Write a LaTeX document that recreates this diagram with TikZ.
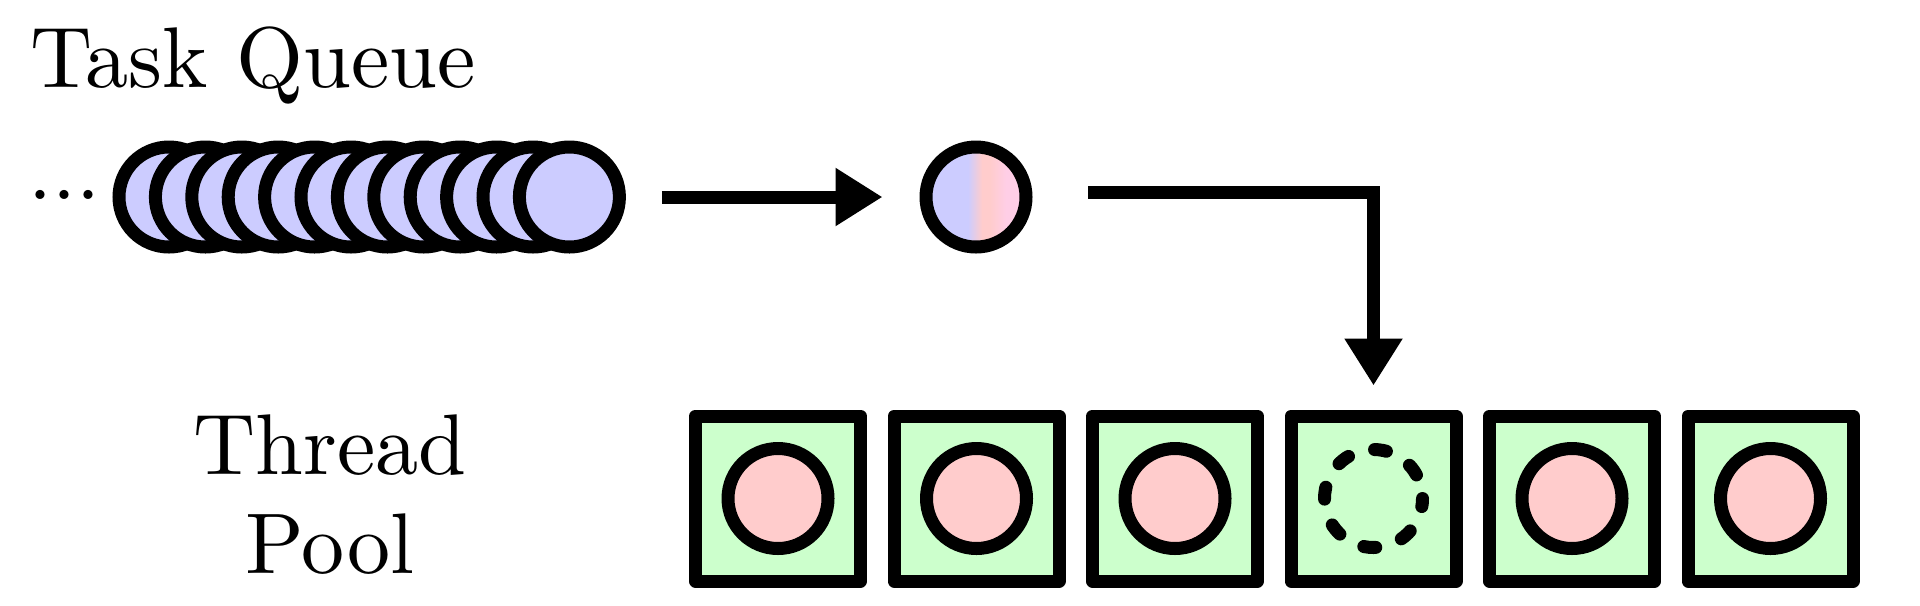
\documentclass[tikz,border=0pt]{standalone}
\usepackage{fontspec}
\usepackage{tikz}
\usetikzlibrary{arrows.meta, positioning}

\newfontfamily\captionfont{lmroman10-regular.otf}

\definecolor{queueblue}{RGB}{204,204,255}
\definecolor{poolgreen}{RGB}{204,255,204}
\definecolor{taskpink}{RGB}{255,204,204}
\definecolor{taskrose}{RGB}{255,206,230}
\pgfdeclarehorizontalshading{taskshading}{100bp}{color(0bp)=(queueblue); color(46bp)=(queueblue); color(53bp)=(taskpink); color(57bp)=(taskpink); color(65bp)=(taskrose); color(100bp)=(taskrose)}

\tikzset{
  caption/.style={inner sep=0pt, font=\captionfont\fontsize{24.5}{28.2}\selectfont},
  queuetask/.style={circle, draw=black, line width=1.3mm, fill=queueblue, minimum size=1cm, inner sep=0pt},
  pooltask/.style={circle, draw=black, line width=1.3mm, fill=taskpink, minimum size=1cm, inner sep=0pt},
  freeslot/.style={circle, draw=black, line width=1.3mm, line cap=round, dash pattern=on 1.2mm off 2.73mm, dash phase=1.47mm, minimum size=0.98cm, inner sep=0pt},
  thread/.style={rectangle, draw=black, line width=1.3mm, line join=round, fill=poolgreen, minimum size=1.65cm, inner sep=0pt},
  flow/.style={line width=1.3mm, -{Triangle[length=4.7mm, width=5.5mm]}}
}

\begin{document}
\begin{tikzpicture}
\useasboundingbox (0,0) rectangle (19.2,6.05);

\node[caption, anchor=base west] (queuelabel) at (0.30,5.177) {Task Queue};
\node[caption, anchor=base west] (ellipsis) at (0.28,4.053) {...};

\node[queuetask] (q1) at (1.690,4.08) {};
\node[queuetask] (q2) at (2.054,4.08) {};
\node[queuetask] (q3) at (2.418,4.08) {};
\node[queuetask] (q4) at (2.782,4.08) {};
\node[queuetask] (q5) at (3.146,4.08) {};
\node[queuetask] (q6) at (3.510,4.08) {};
\node[queuetask] (q7) at (3.874,4.08) {};
\node[queuetask] (q8) at (4.238,4.08) {};
\node[queuetask] (q9) at (4.602,4.08) {};
\node[queuetask] (q10) at (4.966,4.08) {};
\node[queuetask] (q11) at (5.330,4.08) {};
\node[queuetask] (q12) at (5.694,4.08) {};

\node[queuetask, shading=taskshading] (task) at (9.76,4.08) {};

\draw[flow, shorten <=3.6mm, shorten >=3.7mm] (q12) -- (task);

\node[caption, align=center, anchor=north] (poollabel) at (3.30,1.906) {Thread\\Pool};

\node[thread] (thread1) at (7.780,1.065) {};
\node[thread] (thread2) at (9.765,1.065) {};
\node[thread] (thread3) at (11.750,1.065) {};
\node[thread] (thread4) at (13.735,1.065) {};
\node[thread] (thread5) at (15.720,1.065) {};
\node[thread] (thread6) at (17.705,1.065) {};

\node[pooltask] (busy1) at (thread1) {};
\node[pooltask] (busy2) at (thread2) {};
\node[pooltask] (busy3) at (thread3) {};
\node[freeslot] (slot4) at (thread4) {};
\node[pooltask] (busy5) at (thread5) {};
\node[pooltask] (busy6) at (thread6) {};

\draw[flow, line join=miter, shorten >=2.4mm] ([xshift=5.55mm, yshift=0.45mm]task.east) -| (thread4);

\end{tikzpicture}
\end{document}
